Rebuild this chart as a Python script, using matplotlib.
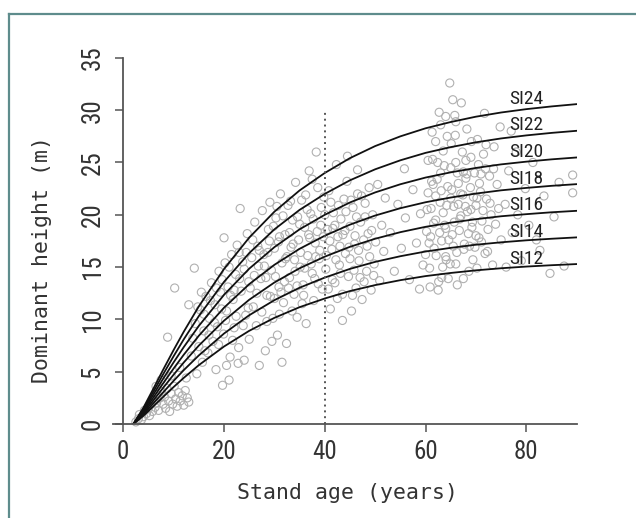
import matplotlib
matplotlib.use("Agg")
import matplotlib.pyplot as plt
from matplotlib import font_manager
from matplotlib.lines import Line2D

# ---------------- data ----------------
ages = [2, 4, 6, 8, 10, 12, 15, 20, 25, 30, 35, 40, 45, 50, 55, 60, 65, 70, 75, 80, 85, 90]
si_labels = ["SI24", "SI22", "SI20", "SI18", "SI16", "SI14", "SI12"]
si24 = [0, 1.56, 3.40, 5.27, 7.08, 8.82, 11.25, 14.82, 17.82, 20.30, 22.33, 24.0, 25.42, 26.57, 27.50, 28.27, 28.87, 29.38, 29.78, 30.10, 30.36, 30.58]
si22 = [0, 1.43, 3.12, 4.83, 6.49, 8.09, 10.32, 13.59, 16.34, 18.61, 20.47, 22.0, 23.30, 24.35, 25.21, 25.92, 26.47, 26.93, 27.30, 27.59, 27.83, 28.03]
si20 = [0, 1.30, 2.84, 4.39, 5.90, 7.35, 9.38, 12.35, 14.85, 16.91, 18.61, 20.0, 21.18, 22.14, 22.92, 23.56, 24.06, 24.48, 24.82, 25.08, 25.30, 25.48]
si18 = [0, 1.17, 2.55, 3.95, 5.31, 6.62, 8.44, 11.12, 13.37, 15.22, 16.75, 18.0, 19.06, 19.93, 20.63, 21.20, 21.65, 22.03, 22.34, 22.57, 22.77, 22.93]
si16 = [0, 1.04, 2.27, 3.51, 4.72, 5.88, 7.50, 9.88, 11.88, 13.53, 14.89, 16.0, 16.94, 17.71, 18.34, 18.85, 19.25, 19.58, 19.86, 20.06, 20.24, 20.38]
si14 = [0, 0.91, 1.99, 3.07, 4.13, 5.15, 6.56, 8.65, 10.40, 11.84, 13.03, 14.0, 14.83, 15.50, 16.04, 16.49, 16.84, 17.14, 17.37, 17.56, 17.71, 17.84]
si12 = [0, 0.78, 1.70, 2.63, 3.54, 4.41, 5.63, 7.41, 8.91, 10.15, 11.17, 12.0, 12.71, 13.28, 13.75, 14.14, 14.44, 14.69, 14.89, 15.05, 15.18, 15.29]
curves = [si24, si22, si20, si18, si16, si14, si12]

obs_age = [
    2.5, 3.0, 3.2, 3.6, 4.0, 4.2, 4.6, 5.0, 5.2, 5.5, 5.8, 6.0, 6.3, 6.6, 6.8, 7.0, 7.3, 7.6, 7.9, 8.2,
    8.4, 8.7, 9.0, 9.2, 9.5, 9.8, 10.1, 10.4, 10.7, 11.0, 11.3, 11.7, 12.0, 12.3, 12.7, 13.0, 8.8, 10.2, 14.1, 9.5,
    11.2, 12.5, 13.5, 6.5, 7.5,
    13.8, 14.3, 14.6, 15.0, 15.3, 15.7, 16.0, 16.4, 16.8, 17.1, 17.5, 17.8, 18.2, 18.4, 18.7, 19.0, 19.3, 19.7, 19.9, 20.2,
    20.5, 20.8, 21.0, 21.2, 21.5, 21.8, 22.0, 22.3, 22.6, 22.9, 23.2, 23.4, 23.7, 24.0, 24.3, 24.6, 24.9, 25.0, 20.0, 21.0,
    22.0, 23.0, 24.0, 19.5, 18.5, 17.0, 16.0, 15.5, 13.0, 20.5,
    14.8, 16.2, 17.3, 18.1, 18.9, 19.6, 20.3, 21.3, 22.4, 23.1, 23.8, 24.4, 24.8, 21.7, 22.8,
    25.5, 25.8, 26.1, 26.4, 26.7, 27.0, 27.3, 27.6, 27.9, 28.2, 28.5, 28.8, 29.1, 29.4, 29.7, 30.0, 30.3, 30.6, 30.9, 31.2,
    31.5, 31.8, 32.1, 32.4, 32.7, 33.0, 33.3, 33.6, 33.9, 34.2, 34.5, 34.8, 35.1, 35.4, 35.7, 36.0, 36.3, 36.6, 36.9, 37.2,
    37.5, 37.8, 38.1, 38.3, 38.6, 38.9, 39.2, 39.5, 39.8, 26.0, 27.0, 28.0, 29.0, 30.0, 31.0, 32.0, 33.0, 34.0, 35.0, 36.0,
    37.0, 38.0, 39.0, 30.5, 32.5, 34.5, 36.5, 38.5, 28.5, 33.5, 35.5, 37.5, 31.5, 29.5,
    30.2, 30.8, 31.3, 31.7, 32.2, 32.8, 33.2, 33.7, 34.1, 34.6, 35.2, 35.8, 36.2, 36.8, 37.3, 37.7, 38.2, 38.7, 39.3, 39.7,
    26.5, 27.5, 28.3, 29.2, 25.2, 25.7, 26.8, 28.7, 29.8, 31.0,
    40.2, 40.5, 40.8, 41.1, 41.4, 41.7, 42.0, 42.3, 42.6, 42.9, 43.2, 43.5, 43.8, 44.1, 44.4, 44.7, 45.0, 45.3, 45.6, 45.9,
    46.2, 46.5, 46.8, 47.1, 47.4, 47.7, 48.0, 48.3, 48.6, 48.9, 49.2, 49.5, 49.8, 50.1, 50.5, 50.9, 51.3, 51.7, 52.0, 40.0,
    41.0, 42.0, 43.0, 44.0, 45.0, 46.0, 47.0, 48.0, 44.5, 43.5, 42.5, 46.5, 41.5, 45.5,
    40.3, 40.7, 41.2, 41.6, 42.2, 42.7, 43.1, 43.6, 44.2, 44.8, 45.2, 45.8, 46.3, 46.7, 47.3, 47.8, 48.4, 48.8, 49.3, 49.7,
    53.0, 53.8, 54.5, 55.2, 56.0, 56.8, 57.5, 58.2, 59.0, 59.5, 55.8, 58.8,
    60.2, 60.5, 60.8, 61.1, 61.4, 61.7, 62.0, 62.3, 62.6, 62.9, 63.2, 63.5, 63.8, 64.1, 64.4, 64.8, 65.0, 65.3, 65.4, 65.6,
    65.9, 66.2, 66.5, 66.8, 67.1, 67.4, 67.7, 68.0, 68.3, 68.6, 68.9, 69.2, 69.4, 69.7, 70.0, 70.3, 70.6, 70.9, 71.2, 71.5,
    71.8, 72.1, 72.4, 72.7, 73.0, 73.3, 73.6, 73.9, 74.2, 74.8, 75.0, 61.0, 62.0, 63.0, 64.0, 65.0, 66.0, 67.0, 68.0, 69.0,
    70.0, 71.0, 72.0, 60.0, 63.0, 64.0, 66.0, 62.5, 64.0, 67.5, 61.5, 63.5, 65.5, 67.5, 69.5, 66.5, 68.5, 70.5, 62.0, 60.5,
    64.5,
    60.3, 60.7, 61.2, 61.6, 62.1, 62.4, 62.8, 63.1, 63.4, 63.7, 64.2, 64.6, 65.1, 65.2, 65.7, 66.0, 66.3, 66.7, 67.0, 67.3,
    67.6, 67.9, 68.2, 68.7, 69.0, 69.3, 69.8, 70.2, 70.7, 71.1, 71.4, 71.9, 72.3, 72.8, 61.3, 62.7, 64.3, 65.8, 66.3, 68.2,
    63.2, 64.9, 60.9, 69.1, 70.2, 71.7, 73.5, 74.5,
    75.8, 76.5, 77.2, 78.0, 78.3, 79.0, 79.8, 80.5, 81.3, 82.0, 82.7, 83.5, 84.7, 85.5, 86.5, 87.5, 89.2, 89.2, 77.0, 76.0,
]
obs_height = [
    0.2, 0.5, 0.9, 0.4, 0.7, 1.3, 1.0, 1.5, 0.8, 1.9, 1.2, 2.3, 1.6, 2.0, 2.8, 1.3, 2.5, 3.1, 1.9, 2.6,
    1.5, 3.4, 2.2, 1.2, 2.9, 1.9, 3.6, 2.4, 1.7, 3.0, 2.2, 2.7, 1.8, 3.2, 2.5, 2.1, 8.3, 13.0, 14.9, 4.6,
    5.4, 4.4, 6.5, 3.6, 4.2,
    8.2, 9.6, 4.8, 7.4, 10.9, 5.9, 8.9, 12.2, 6.8, 10.1, 13.5, 7.9, 11.4, 5.2, 9.3, 14.6, 12.6, 3.7, 8.6, 15.4,
    10.8, 13.1, 4.2, 6.4, 16.2, 11.9, 9.2, 14.3, 17.1, 7.3, 20.6, 12.7, 15.5, 6.1, 10.4, 18.2, 13.6, 8.1, 17.8, 15.0,
    12.8, 16.4, 14.8, 11.0, 13.0, 8.5, 10.5, 12.6, 11.4, 5.6,
    11.2, 7.0, 11.8, 9.7, 7.6, 13.8, 9.9, 12.3, 10.3, 13.9, 9.4, 16.4, 11.1, 8.0, 5.8,
    15.9, 11.2, 19.3, 9.4, 17.0, 5.6, 13.9, 20.4, 16.2, 7.0, 12.3, 18.6, 21.2, 14.7, 10.1, 16.8, 19.7, 8.5, 13.1, 22.0,
    15.4, 11.6, 18.1, 7.7, 20.9, 14.0, 16.9, 19.5, 12.4, 23.1, 10.2, 17.6, 15.0, 21.4, 13.3, 18.8, 9.6, 16.1, 24.2, 20.1,
    14.4, 11.8, 17.3, 26.0, 22.6, 15.8, 19.0, 12.9, 21.7, 14.2, 16.6, 15.1, 17.5, 12.0, 17.9, 13.6, 18.3, 15.7, 19.1, 14.9,
    17.8, 13.9, 16.6, 20.8, 16.0, 13.2, 20.5, 18.4, 9.8, 10.8, 11.5, 23.4, 5.9, 7.9,
    14.1, 17.4, 12.6, 19.9, 15.8, 13.0, 21.3, 17.2, 14.6, 19.8, 16.4, 12.3, 21.9, 18.1, 15.3, 19.6, 16.0, 13.4, 20.7, 17.9,
    12.5, 10.7, 14.0, 12.2, 13.0, 17.6, 15.1, 16.4, 18.9, 10.5,
    14.8, 18.6, 22.3, 11.0, 16.7, 20.2, 13.5, 24.8, 17.9, 15.2, 19.6, 12.4, 21.5, 16.3, 23.2, 14.1, 18.9, 10.8, 20.7, 17.2,
    13.0, 22.0, 15.6, 19.3, 11.9, 17.6, 21.1, 14.6, 18.2, 16.0, 12.8, 20.0, 15.3, 17.4, 22.9, 13.7, 19.0, 16.5, 21.6, 20.0,
    17.5, 19.0, 17.0, 18.5, 15.8, 18.0, 14.0, 19.8, 25.6, 9.9, 12.0, 24.3, 13.8, 12.3,
    16.1, 12.9, 21.2, 18.7, 15.7, 20.9, 14.4, 18.1, 20.3, 16.9, 21.4, 14.7, 19.8, 16.6, 21.8, 13.6, 17.0, 22.6, 18.5, 14.2,
    18.3, 14.6, 21.0, 16.8, 19.7, 13.8, 22.4, 17.3, 20.1, 15.2, 24.4, 12.9,
    18.4, 22.1, 14.9, 20.6, 25.3, 16.8, 19.5, 23.4, 13.6, 21.2, 17.5, 26.1, 19.0, 15.7, 22.7, 32.6, 24.5, 18.1, 31.0, 20.8,
    27.6, 16.4, 23.0, 19.6, 30.7, 21.9, 17.2, 25.2, 20.3, 14.6, 22.6, 18.8, 15.7, 24.0, 20.9, 27.2, 17.8, 22.2, 19.4, 25.8,
    16.3, 21.5, 18.6, 23.7, 20.0, 15.2, 26.5, 19.1, 22.9, 28.4, 17.6, 17.9, 21.8, 24.0, 18.7, 21.6, 25.0, 19.9, 23.5, 20.5,
    18.0, 23.9, 26.7, 16.2, 28.6, 29.4, 28.9, 12.8, 16.0, 13.9, 22.9, 20.2, 17.0, 24.1, 21.7, 21.0, 18.2, 24.8, 27.0, 25.2,
    13.9,
    20.5, 17.3, 23.2, 19.2, 16.1, 25.0, 18.3, 22.3, 15.0, 24.7, 20.9, 17.6, 26.8, 22.4, 19.3, 15.3, 24.0, 18.5, 22.0, 26.0,
    16.7, 20.8, 23.9, 17.0, 25.5, 19.3, 16.9, 21.6, 23.0, 17.4, 20.4, 24.4, 16.5, 21.1, 27.9, 29.8, 27.5, 29.5, 13.3, 28.2,
    14.0, 15.3, 13.1, 27.0, 14.9, 29.7, 24.4, 20.6,
    21.0, 24.2, 18.3, 26.0, 20.0, 15.6, 22.5, 19.0, 25.0, 17.6, 16.6, 21.8, 14.4, 19.8, 23.1, 15.1, 23.8, 22.1, 28.0, 15.0,
]

x_ticks = [0, 20, 40, 60, 80]
y_ticks = [0, 5, 10, 15, 20, 25, 30, 35]
ref_age = 40
ref_line_top = 30

# ---------------- fonts ----------------
available = {f.name for f in font_manager.fontManager.ttflist}
narrow = None
for cand in ["Liberation Sans Narrow", "Roboto Condensed", "Open Sans Condensed", "Noto Sans Condensed"]:
    if cand in available:
        narrow = [cand, "DejaVu Sans"]
        break
if narrow is not None:
    tick_size, si_size = 18, 14
else:
    narrow = ["Liberation Sans", "DejaVu Sans"]
    tick_size, si_size = 16, 12.5
mono = ["DejaVu Sans Mono", "DejaVu Sans"]

# ---------------- figure ----------------
W, H = 636, 518
fig = plt.figure(figsize=(W / 100, H / 100), dpi=100)
fig.patch.set_facecolor("white")

left_px, right_px, bottom_px, top_px = 112.7, 576.7, 424.0, 42.2
ax = fig.add_axes([left_px / W, 1 - bottom_px / H,
                   (right_px - left_px) / W, (bottom_px - top_px) / H])
ax.set_xlim(-2.1, 90.0)
ax.set_ylim(0, 36.5)

axis_col = "#555555"
ax.scatter(obs_age, obs_height, s=34, facecolors="none", edgecolors="#b0b0b0",
           linewidths=0.8, zorder=2, clip_on=False)

for lab, hts in zip(si_labels, curves):
    ax.plot(ages, hts, color="#111111", lw=1.3, zorder=3, solid_joinstyle="round")
    ax.text(80, hts[-1] - 0.35, lab, fontsize=si_size, family=narrow,
            ha="center", va="bottom", color="#222222", zorder=4)

ax.plot([ref_age, ref_age], [0, ref_line_top], ls=(0, (1, 2)), color="#555555", lw=1.4, zorder=3)

for side in ("top", "right"):
    ax.spines[side].set_visible(False)
ax.spines["left"].set_position(("data", 0))
ax.spines["left"].set_bounds(0, 35)
ax.spines["bottom"].set_position(("data", 0))
for side in ("left", "bottom"):
    ax.spines[side].set_color(axis_col)
    ax.spines[side].set_linewidth(1.3)
    ax.spines[side].set_zorder(5)

ax.set_xticks(x_ticks)
ax.set_yticks(y_ticks)
ax.tick_params(axis="both", direction="out", length=5.5, width=1.1, color=axis_col,
               labelsize=tick_size, labelcolor="#333333")
ax.tick_params(axis="x", pad=6)
ax.tick_params(axis="y", pad=8, labelrotation=90)
for t in ax.get_xticklabels() + ax.get_yticklabels():
    t.set_family(narrow)
for t in ax.get_yticklabels():
    t.set_va("center")

ax.set_xlabel("Stand age (years)", fontsize=15.5, family=mono, color="#333333")
ax.xaxis.set_label_coords(0.507, -0.155)
ax.set_ylabel("Dominant height (m)", fontsize=15.5, family=mono, color="#333333")
ax.yaxis.set_label_coords(-0.13, 0.43)

# outer frame
fx = 9 / W
fy = 1 - 14 / H
fig.add_artist(Line2D([fx, fx], [0, fy], color="#5e8c8c", lw=1.6))
fig.add_artist(Line2D([fx, 1.0], [fy, fy], color="#5e8c8c", lw=1.6))

fig.savefig("out.png", dpi=100, facecolor="white")
